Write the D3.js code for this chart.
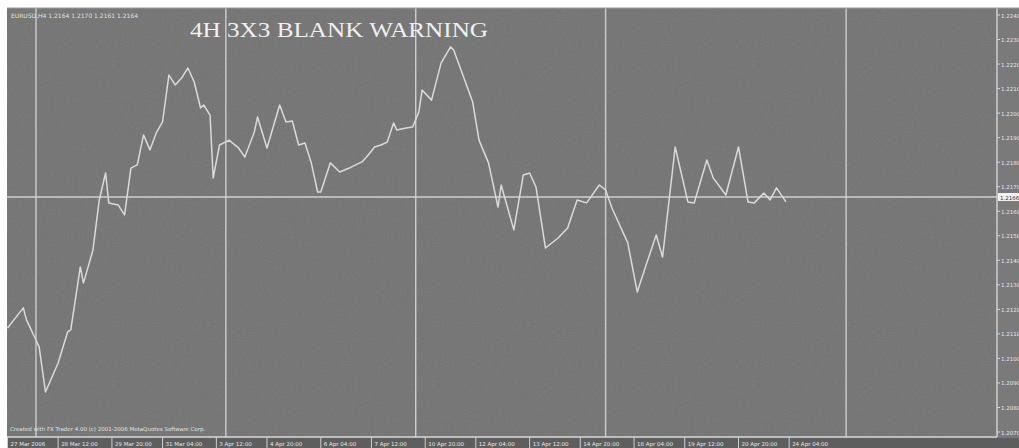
<!DOCTYPE html>
<html><head><meta charset="utf-8">
<script src="https://cdn.jsdelivr.net/npm/d3@7/dist/d3.min.js"></script>
<style>html,body{margin:0;padding:0;background:#fff;overflow:hidden}</style>
</head><body>
<svg id="c" width="1019" height="448"></svg>
<script>
// ---- data ----
const barIndex = [0,5,6,9,10,12,16,19,20,23,24,27,29,31,32,35,37,39,41,43,45,47,49,51,53,55,57,59,61,62,64,65,67,70,73,75,78,79,82,86,88,90,92,94,96,98,99,102,105,108,110,112,114,116,118,120,122,123,126,128,130,131,134,137,140,141,147,149,152,155,156,160,163,165,167,170,174,177,180,183,187,189,191,196,199,202,205,207,211,215,217,221,223,227,231,234,236,239,241,243,246];
const closes = [1.21124,1.21206,1.21157,1.21075,1.21047,1.20863,1.20981,1.21108,1.21116,1.21373,1.21307,1.21442,1.21646,1.21756,1.21634,1.21625,1.21585,1.21776,1.21789,1.21911,1.21850,1.21919,1.21964,1.22155,1.22115,1.22143,1.22184,1.22127,1.22021,1.22033,1.21992,1.21736,1.21870,1.21890,1.21858,1.21821,1.21923,1.21984,1.21858,1.22033,1.21964,1.21968,1.21870,1.21878,1.21797,1.21678,1.21678,1.21797,1.21760,1.21776,1.21789,1.21801,1.21829,1.21862,1.21870,1.21882,1.21960,1.21931,1.21939,1.21943,1.22005,1.22094,1.22053,1.22204,1.22270,1.22257,1.22045,1.21890,1.21797,1.21617,1.21707,1.21524,1.21748,1.21756,1.21699,1.21450,1.21491,1.21532,1.21646,1.21634,1.21707,1.21687,1.21613,1.21471,1.21271,1.21389,1.21503,1.21413,1.21862,1.21638,1.21634,1.21809,1.21736,1.21666,1.21862,1.21638,1.21634,1.21674,1.21646,1.21695,1.21638];
const bidPrice = 1.21658;
const separators = [9,69,129,189,265];
const priceTicks = [1.2240,1.2230,1.2220,1.2210,1.2200,1.2190,1.2180,1.2170,1.2160,1.2150,1.2140,1.2130,1.2120,1.2110,1.2100,1.2090,1.2080,1.2070];
const timeTickBars = [0,16,33,49,66,82,99,115,132,148,165,181,198,214,231,247];
const timeLabels = ["27 Mar 2006","28 Mar 12:00","29 Mar 20:00","31 Mar 04:00","3 Apr 12:00","4 Apr 20:00","6 Apr 04:00","7 Apr 12:00","10 Apr 20:00","12 Apr 04:00","13 Apr 12:00","14 Apr 20:00","18 Apr 04:00","19 Apr 12:00","20 Apr 20:00","24 Apr 04:00"];
const symbolInfo = "EURUSD,H4  1.2164 1.2170 1.2161 1.2164";
const titleText = "4H 3X3 BLANK WARNING";
const footerText = "Created with FX Trader 4.00 (c) 2001-2006 MetaQuotes Software Corp.";

// ---- layout ----
const svg = d3.select("#c");
const L = 7, T = 8, R = 997, B = 437;
const x = d3.scaleLinear().domain([0, 313]).range([7.5, 998]);
const y = d3.scaleLinear().domain([1.2240, 1.2070]).range([15, 432]);

const defs = svg.append("defs");
const f = defs.append("filter").attr("id","noise").attr("x",0).attr("y",0).attr("width","100%").attr("height","100%");
f.append("feTurbulence").attr("type","fractalNoise").attr("baseFrequency",0.8).attr("numOctaves",2).attr("seed",3).attr("result","n");
f.append("feColorMatrix").attr("type","saturate").attr("values",0);

// background
svg.append("rect").attr("x",L).attr("y",T).attr("width",1019-L).attr("height",448-T).attr("fill","#737373");
svg.append("rect").attr("x",L).attr("y",T).attr("width",1019-L).attr("height",448-T).attr("fill","#fff").attr("filter","url(#noise)").attr("opacity",0.12);
svg.append("rect").attr("x",L).attr("y",B+1).attr("width",1019-L).attr("height",448-B).attr("fill","#5e5e5e");
svg.append("rect").attr("x",R+1).attr("y",T).attr("width",1019-R).attr("height",B-T).attr("fill","#7a7a7a");

// period separators
svg.append("g").selectAll("line").data(separators).join("line")
  .attr("x1",d=>x(d)).attr("x2",d=>x(d)).attr("y1",T).attr("y2",B)
  .attr("stroke","#cdcdcd").attr("stroke-width",1.4);

// bid line
svg.append("line").attr("x1",L).attr("x2",R).attr("y1",y(bidPrice)).attr("y2",y(bidPrice))
  .attr("stroke","#cfcfcf").attr("stroke-width",1.4);

// frame lines
svg.append("line").attr("x1",R).attr("x2",R).attr("y1",T).attr("y2",B).attr("stroke","#d6d6d6").attr("stroke-width",1.4);
svg.append("line").attr("x1",L).attr("x2",R).attr("y1",B).attr("y2",B).attr("stroke","#d6d6d6").attr("stroke-width",1.4);
svg.append("line").attr("x1",L).attr("x2",1019).attr("y1",T).attr("y2",T).attr("stroke","#9a9a9a").attr("stroke-width",1);

// price line
const pts = barIndex.map((b,i)=>[b, closes[i]]);
svg.append("path").datum(pts)
  .attr("d", d3.line().x(d=>x(d[0])).y(d=>y(d[1])))
  .attr("fill","none").attr("stroke","#dadada").attr("stroke-width",1.5).attr("stroke-linejoin","round");

// right price axis
const ra = svg.append("g");
ra.selectAll("text").data(priceTicks).join("text")
  .attr("x",1001).attr("y",d=>y(d)+2.5).text(d=>d.toFixed(4))
  .attr("font-family","DejaVu Sans, sans-serif").attr("font-size",5.5).attr("fill","#e6e6e6");
ra.selectAll("line").data(priceTicks).join("line")
  .attr("x1",R).attr("x2",R+3).attr("y1",d=>y(d)).attr("y2",d=>y(d)).attr("stroke","#d6d6d6");
svg.append("rect").attr("x",R+1).attr("y",y(bidPrice)-4).attr("width",21).attr("height",8).attr("fill","#f2f2f2");
svg.append("text").attr("x",1000).attr("y",y(bidPrice)+2.5).text(bidPrice.toFixed(4))
  .attr("font-family","DejaVu Sans, sans-serif").attr("font-size",5.5).attr("fill","#333");

// bottom time axis
const ta = svg.append("g");
ta.selectAll("line").data(timeTickBars).join("line")
  .attr("x1",d=>x(d)).attr("x2",d=>x(d)).attr("y1",B).attr("y2",448).attr("stroke","#cfcfcf");
ta.selectAll("text").data(timeTickBars).join("text")
  .attr("x",d=>x(d)+3).attr("y",445.5).text((d,i)=>timeLabels[i])
  .attr("font-family","DejaVu Sans, sans-serif").attr("font-size",5.5).attr("fill","#e6e6e6");

// texts
svg.append("text").attr("x",11).attr("y",18).text(symbolInfo)
  .attr("font-family","DejaVu Sans, sans-serif").attr("font-size",6).attr("fill","#e0e0e0");
svg.append("text").attr("x",190).attr("y",37).text(titleText)
  .attr("font-family","Liberation Serif, DejaVu Serif, serif").attr("font-size",21)
  .attr("textLength",298).attr("lengthAdjust","spacingAndGlyphs").attr("fill","#f0f0f0");
svg.append("text").attr("x",10).attr("y",431).text(footerText)
  .attr("font-family","DejaVu Sans, sans-serif").attr("font-size",5.5).attr("fill","#e0e0e0");
</script>
</body></html>
